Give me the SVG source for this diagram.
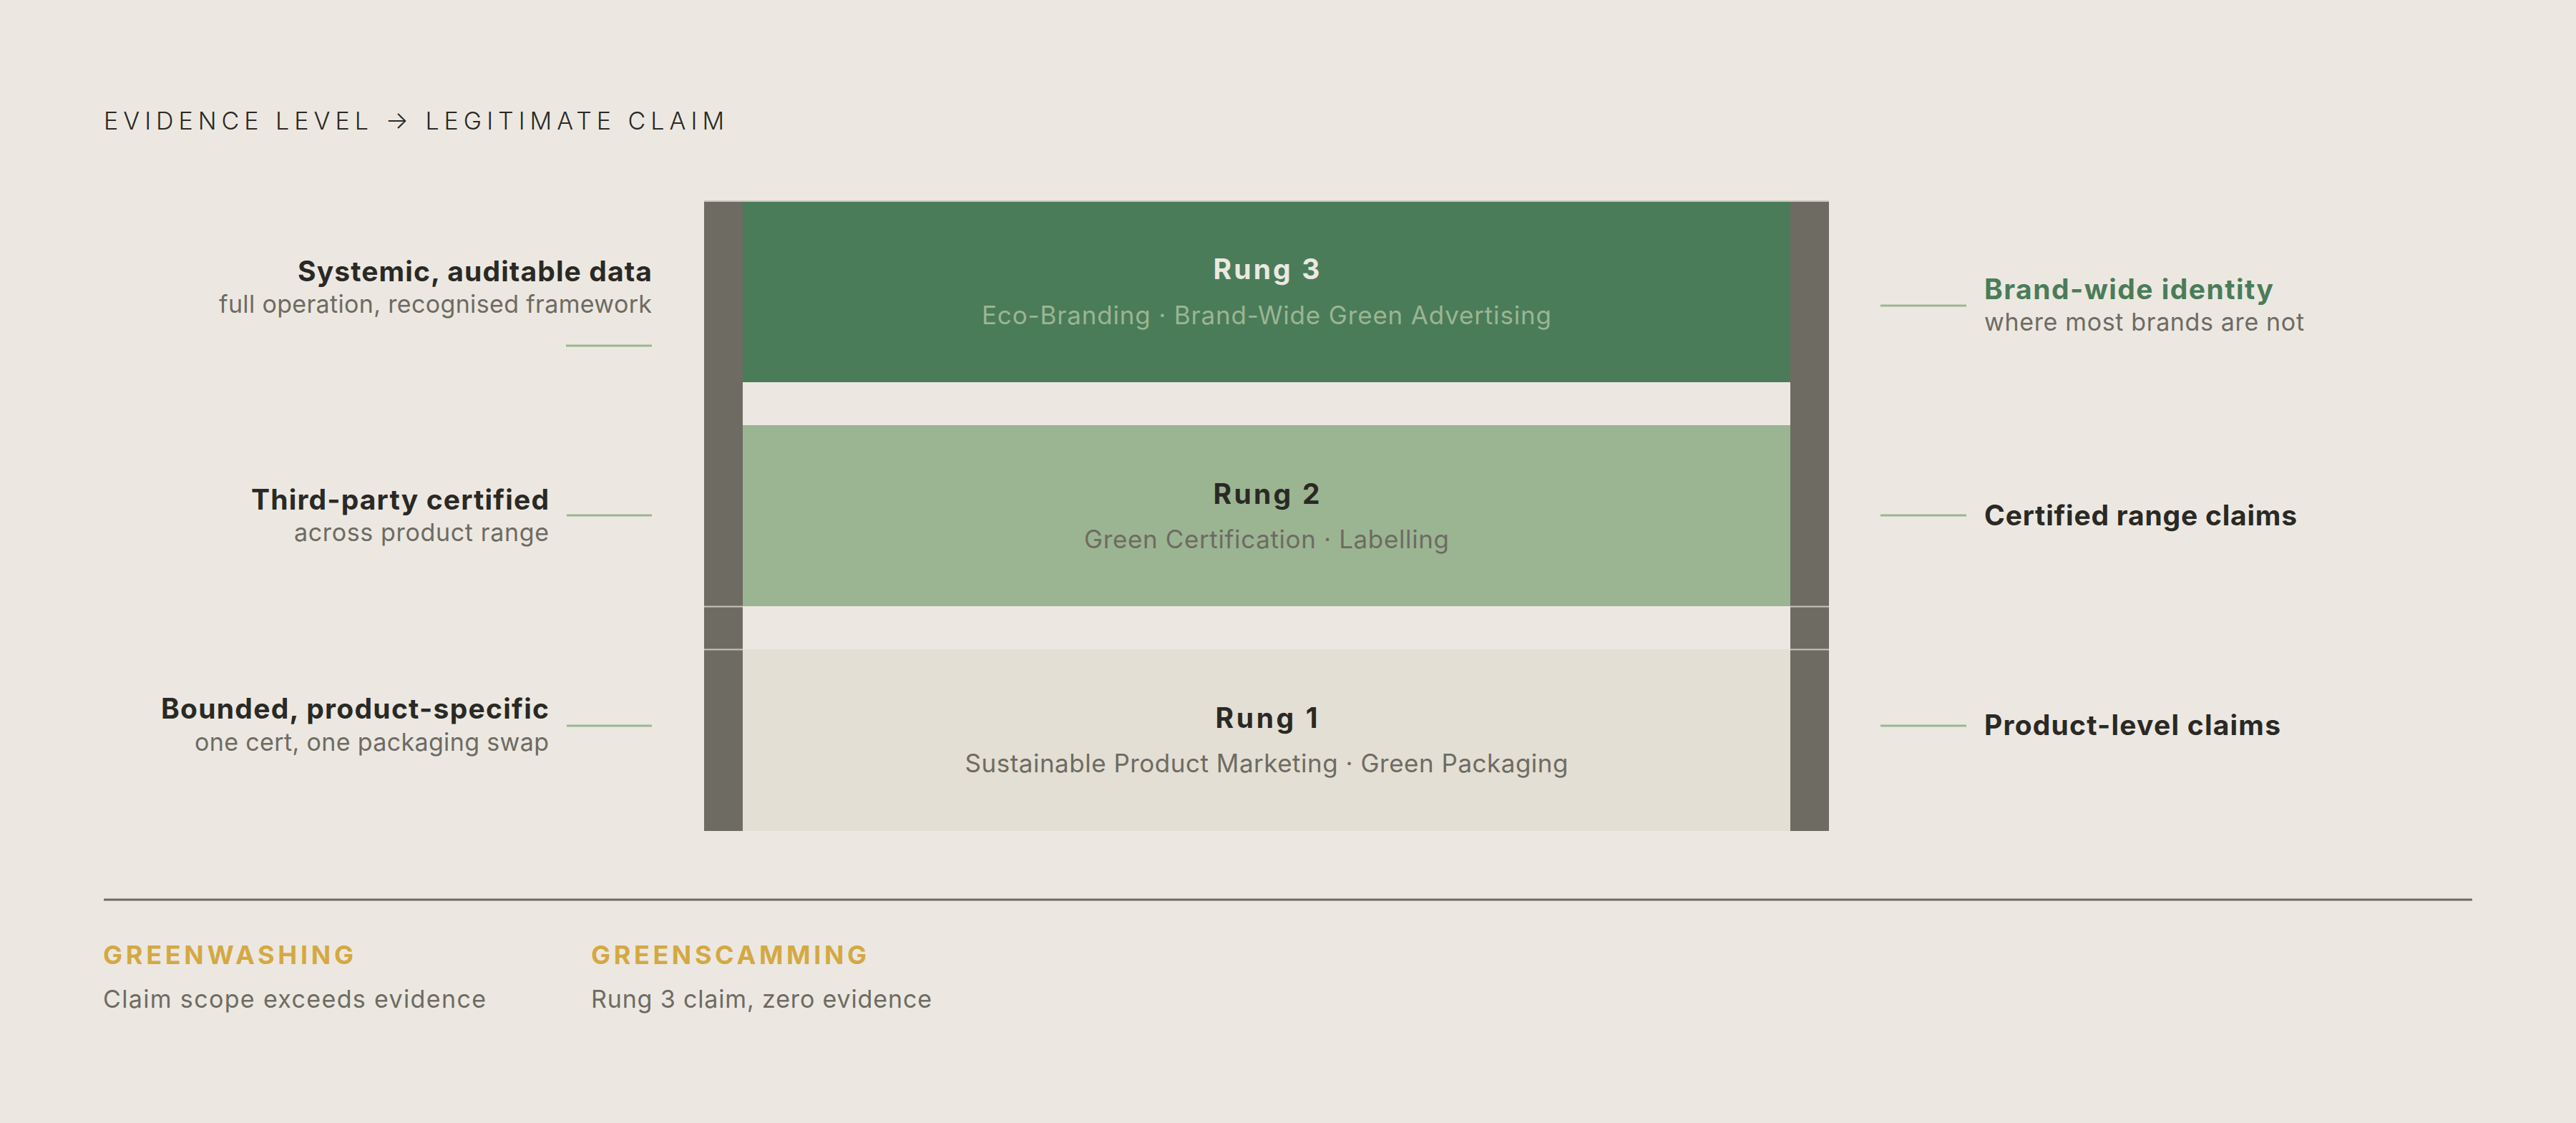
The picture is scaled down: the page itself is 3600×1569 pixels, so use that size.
<svg xmlns="http://www.w3.org/2000/svg" width="3600" height="1569" viewBox="0 0 3600 1569">
<style>
text{font-family:Inter,"DejaVu Sans",sans-serif;}
.title{font-size:34px;font-weight:300;fill:#2a2925;}
.lab{font-size:39px;font-weight:700;fill:#2a2925;}
.sub{font-size:34px;font-weight:400;fill:#6e6b63;}
.rt{font-size:39px;font-weight:700;text-anchor:middle;}
.rs{font-size:35px;font-weight:400;text-anchor:middle;}
.warn{font-size:36px;font-weight:700;fill:#d4a843;}
.end{text-anchor:end;}
.conn{stroke:#9bb592;stroke-width:3;fill:none;}
.rail{fill:#6e6b63;}
.sep{stroke:#c9c5bb;stroke-width:2;}
</style>
<rect width="3600" height="1569" fill="#ece8e1"/>
<text class="title" x="145" y="181" textLength="867" lengthAdjust="spacing">EVIDENCE LEVEL → LEGITIMATE CLAIM</text>

<g id="ladder">
  <rect class="rail" x="984" y="280" width="54" height="881"/>
  <rect class="rail" x="2502" y="280" width="54" height="881"/>
  <g id="rung3">
    <rect x="1038" y="280" width="1464" height="254" fill="#4a7c59"/>
    <text class="rt" x="1770" y="390" fill="#ece8e1" textLength="149" lengthAdjust="spacing">Rung 3</text>
    <text class="rs" x="1770" y="453" fill="#9bb592" textLength="796" lengthAdjust="spacing">Eco-Branding · Brand-Wide Green Advertising</text>
  </g>
  <g id="rung2">
    <rect x="1038" y="594" width="1464" height="253" fill="#9bb592"/>
    <text class="rt" x="1770" y="704" fill="#2a2925" textLength="149" lengthAdjust="spacing">Rung 2</text>
    <text class="rs" x="1770" y="766" fill="#6e6b63" textLength="510" lengthAdjust="spacing">Green Certification · Labelling</text>
  </g>
  <g id="rung1">
    <rect x="1038" y="907" width="1464" height="254" fill="#e3dfd4"/>
    <text class="rt" x="1770" y="1017" fill="#2a2925" textLength="143" lengthAdjust="spacing">Rung 1</text>
    <text class="rs" x="1770" y="1079" fill="#6e6b63" textLength="843" lengthAdjust="spacing">Sustainable Product Marketing · Green Packaging</text>
  </g>
  <line class="sep" x1="984" y1="281" x2="2556" y2="281"/>
  <line class="sep" x1="984" y1="847.5" x2="1038" y2="847.5"/>
  <line class="sep" x1="2502" y1="847.5" x2="2556" y2="847.5"/>
  <line class="sep" x1="984" y1="907.5" x2="1038" y2="907.5"/>
  <line class="sep" x1="2502" y1="907.5" x2="2556" y2="907.5"/>
</g>

<g id="connectors">
  <line class="conn" x1="791" y1="483" x2="911" y2="483"/>
  <line class="conn" x1="792" y1="720" x2="911" y2="720"/>
  <line class="conn" x1="792" y1="1014" x2="911" y2="1014"/>
  <line class="conn" x1="2628" y1="427" x2="2748" y2="427"/>
  <line class="conn" x1="2628" y1="720" x2="2748" y2="720"/>
  <line class="conn" x1="2628" y1="1014" x2="2748" y2="1014"/>
</g>

<g id="evidence3">
  <text class="lab end" x="911" y="393" textLength="495" lengthAdjust="spacing">Systemic, auditable data</text>
  <text class="sub end" x="911" y="437" textLength="605" lengthAdjust="spacing">full operation, recognised framework</text>
</g>
<g id="evidence2">
  <text class="lab end" x="767" y="712" textLength="416" lengthAdjust="spacing">Third-party certified</text>
  <text class="sub end" x="767" y="756" textLength="356" lengthAdjust="spacing">across product range</text>
</g>
<g id="evidence1">
  <text class="lab end" x="767" y="1004" textLength="542" lengthAdjust="spacing">Bounded, product-specific</text>
  <text class="sub end" x="767" y="1049" textLength="495" lengthAdjust="spacing">one cert, one packaging swap</text>
</g>

<g id="claim3">
  <text class="lab" x="2773" y="418" style="fill:#4a7c59" textLength="404" lengthAdjust="spacing">Brand-wide identity</text>
  <text class="sub" x="2773" y="462" textLength="447" lengthAdjust="spacing">where most brands are not</text>
</g>
<g id="claim2">
  <text class="lab" x="2773" y="734" textLength="437" lengthAdjust="spacing">Certified range claims</text>
</g>
<g id="claim1">
  <text class="lab" x="2773" y="1027" textLength="414" lengthAdjust="spacing">Product-level claims</text>
</g>

<line x1="145" y1="1257" x2="3455" y2="1257" stroke="#6e6b63" stroke-width="3"/>
<g id="greenwashing">
  <text class="warn" x="144" y="1347" textLength="350" lengthAdjust="spacing">GREENWASHING</text>
  <text class="sub" x="144" y="1408" textLength="535" lengthAdjust="spacing">Claim scope exceeds evidence</text>
</g>
<g id="greenscamming">
  <text class="warn" x="826" y="1347" textLength="385" lengthAdjust="spacing">GREENSCAMMING</text>
  <text class="sub" x="826" y="1408" textLength="476" lengthAdjust="spacing">Rung 3 claim, zero evidence</text>
</g>
</svg>
